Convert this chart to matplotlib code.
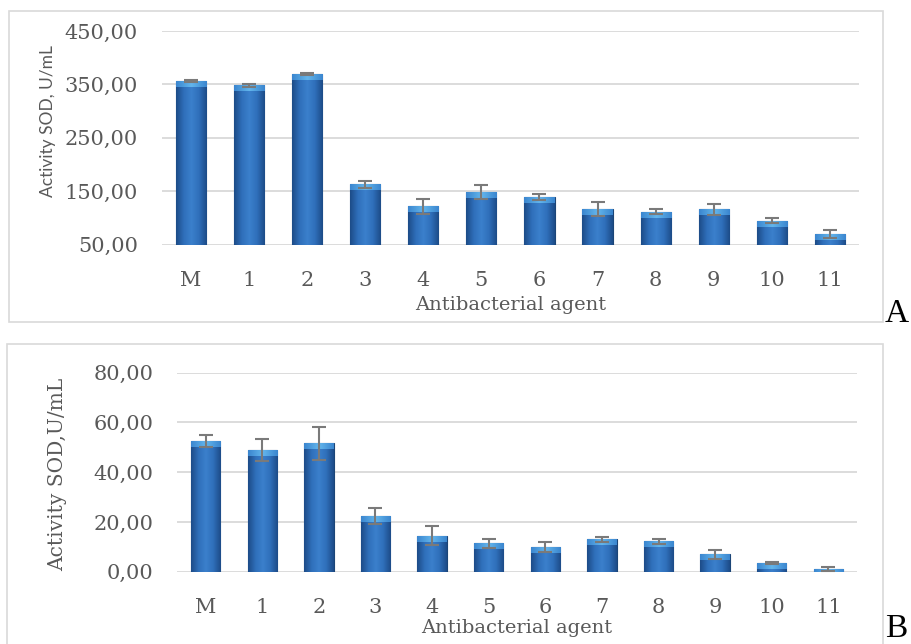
import matplotlib.pyplot as plt
import numpy as np
from matplotlib.patches import Rectangle
from matplotlib.colors import LinearSegmentedColormap

# data
agents = ['M', '1', '2', '3', '4', '5', '6', '7', '8', '9', '10', '11']

sod_a = [357, 348, 370, 163, 122, 148, 139, 116, 112, 116, 95, 70]
err_a = [2, 3, 2, 6, 14, 13, 5, 13, 5, 10, 5, 7]
ticks_a = [50, 150, 250, 350, 450]

sod_b = [52.5, 48.9, 51.6, 22.5, 14.5, 11.4, 10.0, 13.0, 12.2, 7.0, 3.4, 0.9]
err_b = [2.4, 4.3, 6.6, 3.3, 3.9, 1.9, 1.9, 0.9, 0.9, 1.9, 0.3, 0.8]
ticks_b = [0, 20, 40, 60, 80]

W, H = 911, 644
fig = plt.figure(figsize=(W / 100, H / 100), dpi=100)

grey = '#595959'
serif = 'DejaVu Serif'
bar_cmap = LinearSegmentedColormap.from_list(
    'bar', ['#1d4c88', '#2f6fba', '#3b80cc', '#2f6fba', '#1d4c88'])
cap_cmap = LinearSegmentedColormap.from_list(
    'cap', ['#3b86cf', '#63b6ec', '#3b86cf'])


def fmt(v):
    return f'{v:.2f}'.replace('.', ',')


def draw_panel(rect, values, errors, ticks, ylim, ylabel, ylabel_font, ylabel_size, ylabel_xy):
    ax = fig.add_axes(rect)
    x = np.arange(len(agents))
    ax.set_xlim(-0.5, len(agents) - 0.5)
    ax.set_ylim(*ylim)
    bars = ax.bar(x, values, width=0.52, color='#2f6fba', edgecolor='#1b4577',
                  linewidth=0.8, zorder=2)
    grad = np.linspace(0, 1, 64).reshape(1, -1)
    # light bevel on top of each bar (fixed pixel height)
    px = (ylim[1] - ylim[0]) / (rect[3] * H)
    cap = 6 * px
    for b in bars:
        x0, x1 = b.get_x(), b.get_x() + b.get_width()
        top = b.get_height()
        im = ax.imshow(grad, cmap=bar_cmap, aspect='auto', zorder=2.1,
                       extent=[x0, x1, max(ylim[0], 0), top])
        im.set_clip_path(b)
        im2 = ax.imshow(grad, cmap=cap_cmap, aspect='auto', zorder=2.2,
                        extent=[x0, x1, max(top - cap, ylim[0]), top])
        im2.set_clip_path(b)
    ax.set_xlim(-0.5, len(agents) - 0.5)
    ax.set_ylim(*ylim)
    ax.errorbar(x, values, yerr=errors, fmt='none', ecolor='#7a7a7a',
                elinewidth=1.5, capsize=5, capthick=1.5, zorder=3)
    ax.set_yticks(ticks)
    ax.set_yticklabels([fmt(t) for t in ticks])
    ax.set_xticks(x)
    ax.set_xticklabels(agents)
    ax.grid(axis='y', color='#d9d9d9', linewidth=1.3, zorder=0)
    ax.set_axisbelow(True)
    for s in ax.spines.values():
        s.set_visible(False)
    ax.tick_params(length=0, labelsize=15, labelcolor=grey, pad=17)
    ax.tick_params(axis='x', pad=19)
    for lab in ax.get_xticklabels() + ax.get_yticklabels():
        lab.set_family(serif)
    ax.set_xlabel('Antibacterial agent', family=serif, fontsize=14, color=grey)
    ax.xaxis.set_label_coords(0.5, -0.283)
    ax.xaxis.label.set_va('center')
    ax.set_ylabel(ylabel, family=ylabel_font, fontsize=ylabel_size, color=grey)
    ax.yaxis.set_label_coords(*ylabel_xy)
    ax.yaxis.label.set_va('center')
    return ax


draw_panel([161.7 / W, 1 - 244.7 / H, (859 - 161.7) / W, (244.7 - 31) / H],
           sod_a, err_a, ticks_a, (50, 450), 'Activity SOD, U/mL', 'Lato', 12.5,
           (-0.163, 0.579))
draw_panel([177.3 / W, 1 - 571.7 / H, (856.7 - 177.3) / W, (571.7 - 372.7) / H],
           sod_b, err_b, ticks_b, (0, 80), 'Activity SOD,U/mL', serif, 14.5,
           (-0.1756, 0.491))

# panel frames
fig.patches.append(Rectangle((9 / W, 1 - 322 / H), (883 - 9) / W, (322 - 11) / H,
                             transform=fig.transFigure, fill=False,
                             edgecolor='#d9d9d9', linewidth=1.2))
fig.patches.append(Rectangle((7 / W, 1 - 648 / H), (883 - 7) / W, (648 - 344) / H,
                             transform=fig.transFigure, fill=False,
                             edgecolor='#d9d9d9', linewidth=1.2))

fig.text(885 / W, 1 - 322 / H, 'A', family='Liberation Serif', fontsize=24,
         color='black', va='baseline', ha='left')
fig.text(885 / W, 1 - 637 / H, 'B', family='Liberation Serif', fontsize=24,
         color='black', va='baseline', ha='left')

fig.savefig('out.png', dpi=100)
